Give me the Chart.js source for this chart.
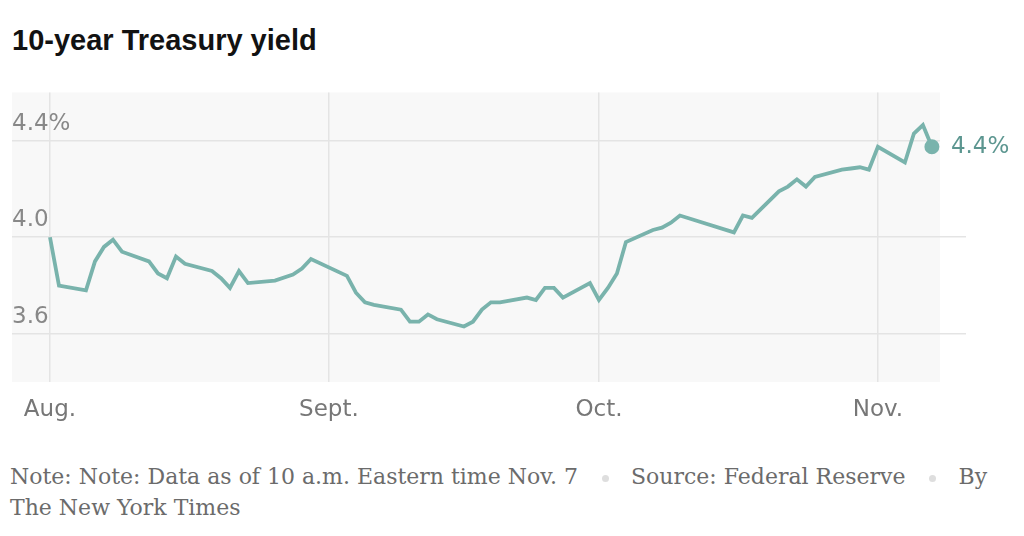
<!DOCTYPE html>
<html lang="en">
<head>
    <meta charset="UTF-8" />
    <title>10-year Treasury yield</title>
    <script src="https://cdn.jsdelivr.net/npm/chart.js"></script>
    <style>
        html, body { margin: 0; padding: 0; background: #fff; }
        body { width: 1024px; height: 536px; position: relative; overflow: hidden; }
        #title {
            position: absolute; left: 12px; top: 26px;
            font: bold 29px "Liberation Sans", Arial, sans-serif;
            line-height: 29px; color: #121212;
        }
        #wrap { position: absolute; left: 0; top: 85px; width: 1024px; height: 347px; }
        #note {
            position: absolute; left: 10px; top: 461px; width: 1004px;
            font: 22px "DejaVu Serif", serif; line-height: 31px; color: #6b6b6b;
        }
        .dot {
            display: inline-block; width: 7px; height: 7px; border-radius: 50%;
            background: #dedede; vertical-align: middle; margin: 0 22px 0 24px;
        }
    </style>
</head>
<body>
    <div id="title">10-year Treasury yield</div>
    <div id="wrap"><canvas id="yieldChart"></canvas></div>
    <div id="note">Note: Note: Data as of 10 a.m. Eastern time Nov. 7<span class="dot"></span>Source: Federal Reserve<span class="dot"></span>By The New York Times</div>

    <script>
        // daily readings
        const dates = [
            "2024-08-01", "2024-08-02", "2024-08-05", "2024-08-06", "2024-08-07", "2024-08-08", "2024-08-09",
            "2024-08-12", "2024-08-13", "2024-08-14", "2024-08-15", "2024-08-16",
            "2024-08-19", "2024-08-20", "2024-08-21", "2024-08-22", "2024-08-23",
            "2024-08-26", "2024-08-28", "2024-08-29", "2024-08-30",
            "2024-09-03", "2024-09-04", "2024-09-05", "2024-09-06",
            "2024-09-09", "2024-09-10", "2024-09-11", "2024-09-12", "2024-09-13",
            "2024-09-16", "2024-09-17", "2024-09-18", "2024-09-19", "2024-09-20",
            "2024-09-23", "2024-09-24", "2024-09-25", "2024-09-26", "2024-09-27",
            "2024-09-30", "2024-10-01", "2024-10-02", "2024-10-03", "2024-10-04",
            "2024-10-07", "2024-10-08", "2024-10-09", "2024-10-10",
            "2024-10-16", "2024-10-17", "2024-10-18",
            "2024-10-21", "2024-10-22", "2024-10-23", "2024-10-24", "2024-10-25",
            "2024-10-28", "2024-10-29", "2024-10-30", "2024-10-31", "2024-11-01",
            "2024-11-04", "2024-11-05", "2024-11-06", "2024-11-07"
        ];
        const yields = [
            4.00, 3.80, 3.78, 3.90, 3.96, 3.99, 3.94,
            3.90, 3.85, 3.83, 3.92, 3.89,
            3.86, 3.83, 3.79, 3.86, 3.81,
            3.82, 3.845, 3.87, 3.91,
            3.84, 3.77, 3.73, 3.72,
            3.70, 3.65, 3.65, 3.68, 3.66,
            3.63, 3.65, 3.70, 3.73, 3.73,
            3.75, 3.74, 3.79, 3.79, 3.75,
            3.81, 3.74, 3.79, 3.85, 3.98,
            4.03, 4.04, 4.06, 4.09,
            4.02, 4.09, 4.08,
            4.19, 4.21, 4.24, 4.21, 4.25,
            4.28, 4.285, 4.29, 4.28, 4.375,
            4.31, 4.43, 4.465, 4.375
        ];
        const monthStarts = ["2024-08-01", "2024-09-01", "2024-10-01", "2024-11-01"];
        const monthLabels = ["Aug.", "Sept.", "Oct.", "Nov."];
        const yTicks = [3.6, 4.0, 4.4];
        const yTickLabels = ["3.6", "4.0", "4.4%"];

        const DAY = 86400000;
        const start = Date.parse(dates[0]);
        const dayOf = s => (Date.parse(s) - start) / DAY;
        const monthDays = monthStarts.map(dayOf);
        const points = dates.map((d, i) => ({ x: dayOf(d), y: yields[i] }));
        const last = points.length - 1;

        const lineColor = "#79b3ac";
        const gridColor = "#e4e4e4";
        const labelFont = '"DejaVu Sans", sans-serif';

        // light panel behind the plot
        const panelBg = {
            id: "panelBg",
            beforeDraw(chart) {
                const { ctx, chartArea: a } = chart;
                ctx.save();
                ctx.fillStyle = "#f8f8f8";
                ctx.fillRect(a.left, a.top, a.right - a.left, a.bottom - a.top);
                ctx.restore();
            }
        };

        // value label next to the last point
        const endLabel = {
            id: "endLabel",
            afterDatasetsDraw(chart) {
                const pt = chart.getDatasetMeta(0).data[last];
                const { ctx } = chart;
                ctx.save();
                ctx.font = "23px " + labelFont;
                ctx.fillStyle = "#5c9690";
                ctx.textBaseline = "middle";
                ctx.fillText(yields[last].toFixed(1) + "%", pt.x + 19, pt.y);
                ctx.restore();
            }
        };

        new Chart(document.getElementById("yieldChart"), {
            type: "line",
            data: {
                datasets: [{
                    data: points,
                    borderColor: lineColor,
                    borderWidth: 3.8,
                    tension: 0,
                    fill: false,
                    pointRadius: ctx => ctx.dataIndex === last ? 7.5 : 0,
                    pointBackgroundColor: lineColor,
                    pointBorderWidth: 0
                }]
            },
            options: {
                responsive: true,
                maintainAspectRatio: false,
                animation: false,
                events: [],
                layout: { padding: { left: 12, top: 7, right: 0, bottom: 0 } },
                plugins: { legend: { display: false }, tooltip: { enabled: false } },
                scales: {
                    x: {
                        type: "linear",
                        min: -4.22,
                        max: 98.9,
                        afterBuildTicks: s => { s.ticks = monthDays.map(v => ({ value: v })); },
                        afterFit: s => { s.height = 50; },
                        grid: { color: gridColor, lineWidth: 1.5, drawTicks: false },
                        border: { display: false },
                        ticks: {
                            padding: 14,
                            color: "#777",
                            font: { family: labelFont, size: 23 },
                            maxRotation: 0,
                            callback: v => monthLabels[monthDays.indexOf(v)]
                        }
                    },
                    y: {
                        position: "left",
                        min: 3.4,
                        max: 4.6,
                        afterBuildTicks: s => { s.ticks = yTicks.map(v => ({ value: v })); },
                        afterFit: s => { s.width = 0; s.paddingTop = 0; s.paddingBottom = 0; },
                        grid: { color: gridColor, lineWidth: 1.5, drawTicks: false },
                        border: { display: false },
                        ticks: {
                            mirror: true,
                            padding: 0,
                            labelOffset: -17,
                            color: "#888",
                            font: { family: labelFont, size: 23 },
                            callback: v => yTickLabels[yTicks.indexOf(v)]
                        }
                    },
                    // only there to run the gridlines a little past the panel
                    y2: {
                        position: "right",
                        min: 3.4,
                        max: 4.6,
                        afterBuildTicks: s => { s.ticks = yTicks.map(v => ({ value: v })); },
                        afterFit: s => { s.width = 84; s.paddingTop = 0; s.paddingBottom = 0; },
                        grid: {
                            drawOnChartArea: false,
                            drawTicks: true,
                            tickLength: 26,
                            lineWidth: 1.5,
                            color: ctx => (ctx.tick && ctx.tick.value === 4.4) ? "rgba(0,0,0,0)" : gridColor
                        },
                        border: { display: false },
                        ticks: { display: false }
                    }
                }
            },
            plugins: [panelBg, endLabel]
        });
    </script>
</body>
</html>
